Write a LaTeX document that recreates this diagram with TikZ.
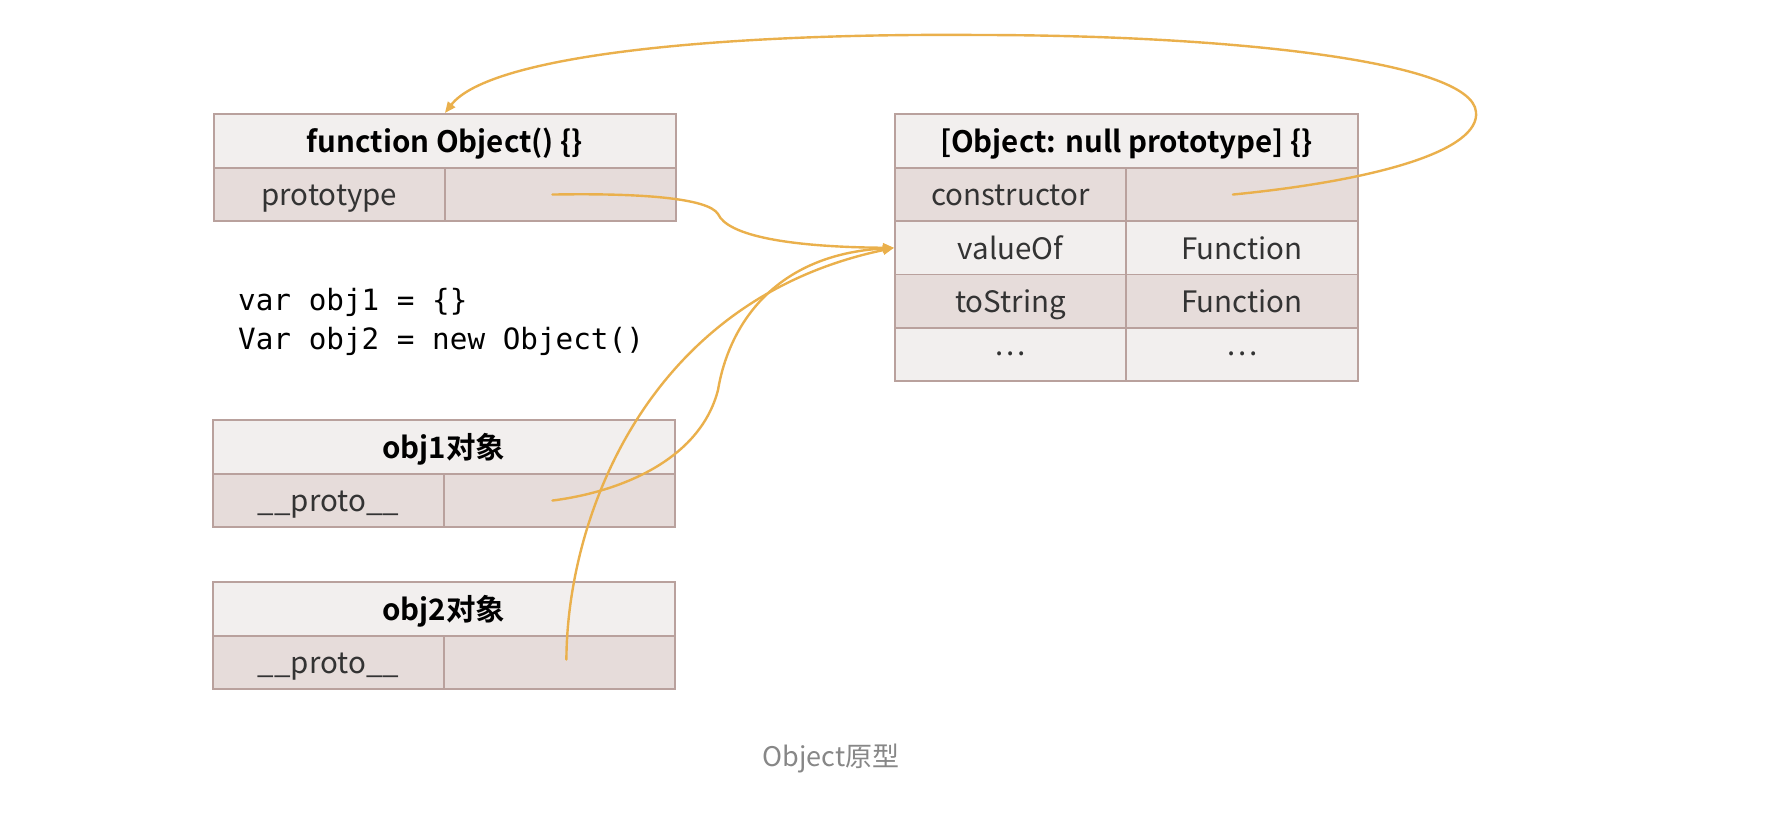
\documentclass[tikz,border=0pt]{standalone}
\usepackage{fontspec}
\setmainfont{Noto Sans CJK SC}[BoldFont={Noto Sans CJK SC Bold}]
\newfontfamily\codefont{DejaVu Sans Mono}
\usetikzlibrary{arrows.meta}
\definecolor{bord}{HTML}{B9A19D}
\definecolor{hdr}{HTML}{F2EFEE}
\definecolor{drk}{HTML}{E6DCDA}
\definecolor{lgt}{HTML}{F2EFEE}
\definecolor{arr}{HTML}{EAB04C}
\definecolor{celltext}{HTML}{333333}
\begin{document}
\begin{tikzpicture}[x=1pt,y=-1pt,
  cell/.style={draw=bord, line width=1.8pt, inner sep=0pt, anchor=north west,
    minimum height=53.3pt, font=\fontsize{29.5}{34}\selectfont, text=celltext,
    text height=22.4pt, text depth=0pt},
  hcell/.style={cell, fill=hdr, minimum height=54pt, minimum width=462pt,
    font=\fontsize{29.5}{34}\selectfont\bfseries, text=black},
  dcell/.style={cell, fill=drk, minimum width=231pt},
  lcell/.style={cell, fill=lgt, minimum width=231pt},
  link/.style={draw=arr, line width=2.4pt, line cap=round},
  tip/.style={-{Triangle[length=11pt,width=9pt]}},
  codetext/.style={anchor=base west, inner sep=0pt, font=\codefont\fontsize{29.3}{34}\selectfont, text=black}
]
\useasboundingbox (0,0) rectangle (1788,818);

% function Object() {}
\node[hcell] (fo) at (213,113) {function Object() \{\}};
\node[dcell] (fok) at (213,167) {prototype};
\node[dcell] (fov) at (444,167) {};

% [Object: null prototype] {}
\node[hcell, minimum width=463pt] (op) at (894,113) {[Object: null prototype] \{\}};
\node[dcell] (ck) at (894,167) {constructor};
\node[dcell, minimum width=232pt] (cv) at (1125,167) {};
\node[lcell] (vk) at (894,220.3) {valueOf};
\node[lcell, minimum width=232pt] (vv) at (1125,220.3) {Function};
\node[dcell] (tk) at (894,273.6) {toString};
\node[dcell, minimum width=232pt] (tv) at (1125,273.6) {Function};
\node[lcell] (ek) at (894,326.9) {\raisebox{10pt}[0pt][0pt]{…}};
\node[lcell, minimum width=232pt] (ev) at (1125,326.9) {\raisebox{10pt}[0pt][0pt]{…}};

% code
\node[codetext] (code1) at (238,311) {var obj1 = \{\}};
\node[codetext] (code2) at (238,349) {Var obj2 = new Object()};

% obj1
\node[hcell] (o1) at (212,419) {obj1对象};
\node[dcell] (o1k) at (212,473) {\_\_proto\_\_};
\node[dcell] (o1v) at (443,473) {};

% obj2
\node[hcell] (o2) at (212,581) {obj2对象};
\node[dcell] (o2k) at (212,635) {\_\_proto\_\_};
\node[dcell] (o2v) at (443,635) {};

% caption
\node[font=\fontsize{27}{32}\selectfont, text=black!47, inner sep=0pt] (cap) at (831,759) {Object原型};

% connectors
\coordinate (s1) at ([xshift=-8pt]fov.center);
\coordinate (s2) at ([xshift=-7pt]o1v.center);
\coordinate (s3) at ([xshift=7pt,yshift=3pt]o2v.center);
\coordinate (s4) at ([xshift=-9pt]cv.center);
\coordinate (tgt) at (vk.west);
\coordinate (tgt2) at (fo.north);

\draw[link, tip] (s1) .. controls (640,193) and (708,198) .. (718,214)
  .. controls (728,236) and (790,247) .. (tgt);
\draw[link, tip] (s2) .. controls (620,492) and (700,460) .. (718,390)
  .. controls (728,330) and (770,255) .. (tgt);
\draw[link, tip] (s3) .. controls (567,520) and (645,300) .. (tgt);
\draw[link, tip] (s4) .. controls (1380,180) and (1480,150) .. (1476,112)
  .. controls (1472,60) and (1220,35) .. (978,35)
  .. controls (720,33) and (490,55) .. (tgt2);
\end{tikzpicture}
\end{document}
